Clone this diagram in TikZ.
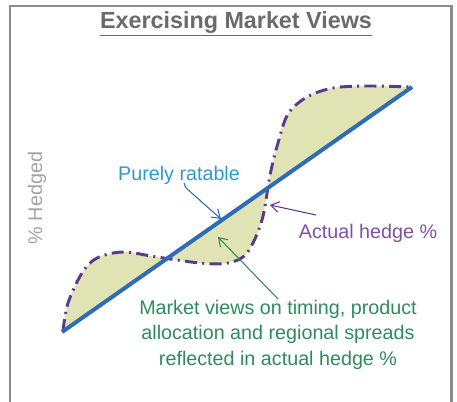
\documentclass[tikz,border=0pt]{standalone}
\usepackage{fontspec}
\setmainfont{Liberation Sans}
\usepackage{xcolor}
\usetikzlibrary{arrows.meta}

\definecolor{framegray}{HTML}{8C8C8C}
\definecolor{titlegray}{HTML}{6A6A6A}
\definecolor{axisgray}{HTML}{A3A3A3}
\definecolor{rateblue}{HTML}{2E6DB6}
\definecolor{ratelabel}{HTML}{2C9BCB}
\definecolor{hedgepurple}{HTML}{5A3A8E}
\definecolor{hedgelabel}{HTML}{7A52A8}
\definecolor{viewgreen}{HTML}{2F8B5D}
\definecolor{spreadfill}{HTML}{E0E4B4}

\tikzset{
  lbl/.style={inner sep=1pt,font=\fontsize{14.8}{18.8}\selectfont},
  callout/.style={line width=0.8pt,-{Straight Barb[length=6pt,width=8pt]}},
  dashdot hedge/.style={hedgepurple,line width=2.2pt,dash pattern=on 9pt off 4pt on 1.5pt off 4pt}
}

\begin{document}
\begin{tikzpicture}[x=0.75pt,y=-0.75pt]
\useasboundingbox (0,0) rectangle (457,401);
\draw[framegray,line width=2.2pt] (10,6) rectangle (451.5,403);

\node[lbl,titlegray,font=\fontsize{17.5}{20}\selectfont\bfseries] (title) at (236,24) {\underline{Exercising Market Views}};
\node[lbl,axisgray,rotate=90] (axis) at (37,198) {\% Hedged};

% area between actual hedge and ratable line
\fill[spreadfill] plot[smooth,tension=0.55] coordinates {(63,331) (68,303) (82,273) (97,258) (123,252) (157,257) (200,263) (228,263) (247,253) (262,220) (270,175) (278,143) (288,114) (307,97) (333,88) (367,86) (412,87)} -- cycle;
\draw[dashdot hedge] plot[smooth,tension=0.55] coordinates {(63,331) (68,303) (82,273) (97,258) (123,252) (157,257) (200,263) (228,263) (247,253) (262,220) (270,175) (278,143) (288,114) (307,97) (333,88) (367,86) (412,87)};

% purely ratable
\draw[rateblue,line width=3pt] (62,332) -- (412,87);

\node[lbl,ratelabel] (ratable) at (179,175) {Purely ratable};
\node[lbl,hedgelabel] (actual) at (368,233) {Actual hedge \%};
\node[lbl,viewgreen,align=center,anchor=north] (views) at (278,299) {Market views on timing, product\\allocation and regional spreads\\reflected in actual hedge \%};

\coordinate (rt0) at (184,183);
\coordinate (rt) at (221,219);
\coordinate (ah0) at (316,215);
\coordinate (ah) at (270,205);
\coordinate (vt) at (218,237);

\draw[callout,rateblue] (rt0) -- (186,188) -- (rt);
\draw[callout,hedgepurple] (ah0) -- (ah);
\draw[callout,viewgreen] (views.north) -- (vt);
\end{tikzpicture}
\end{document}
